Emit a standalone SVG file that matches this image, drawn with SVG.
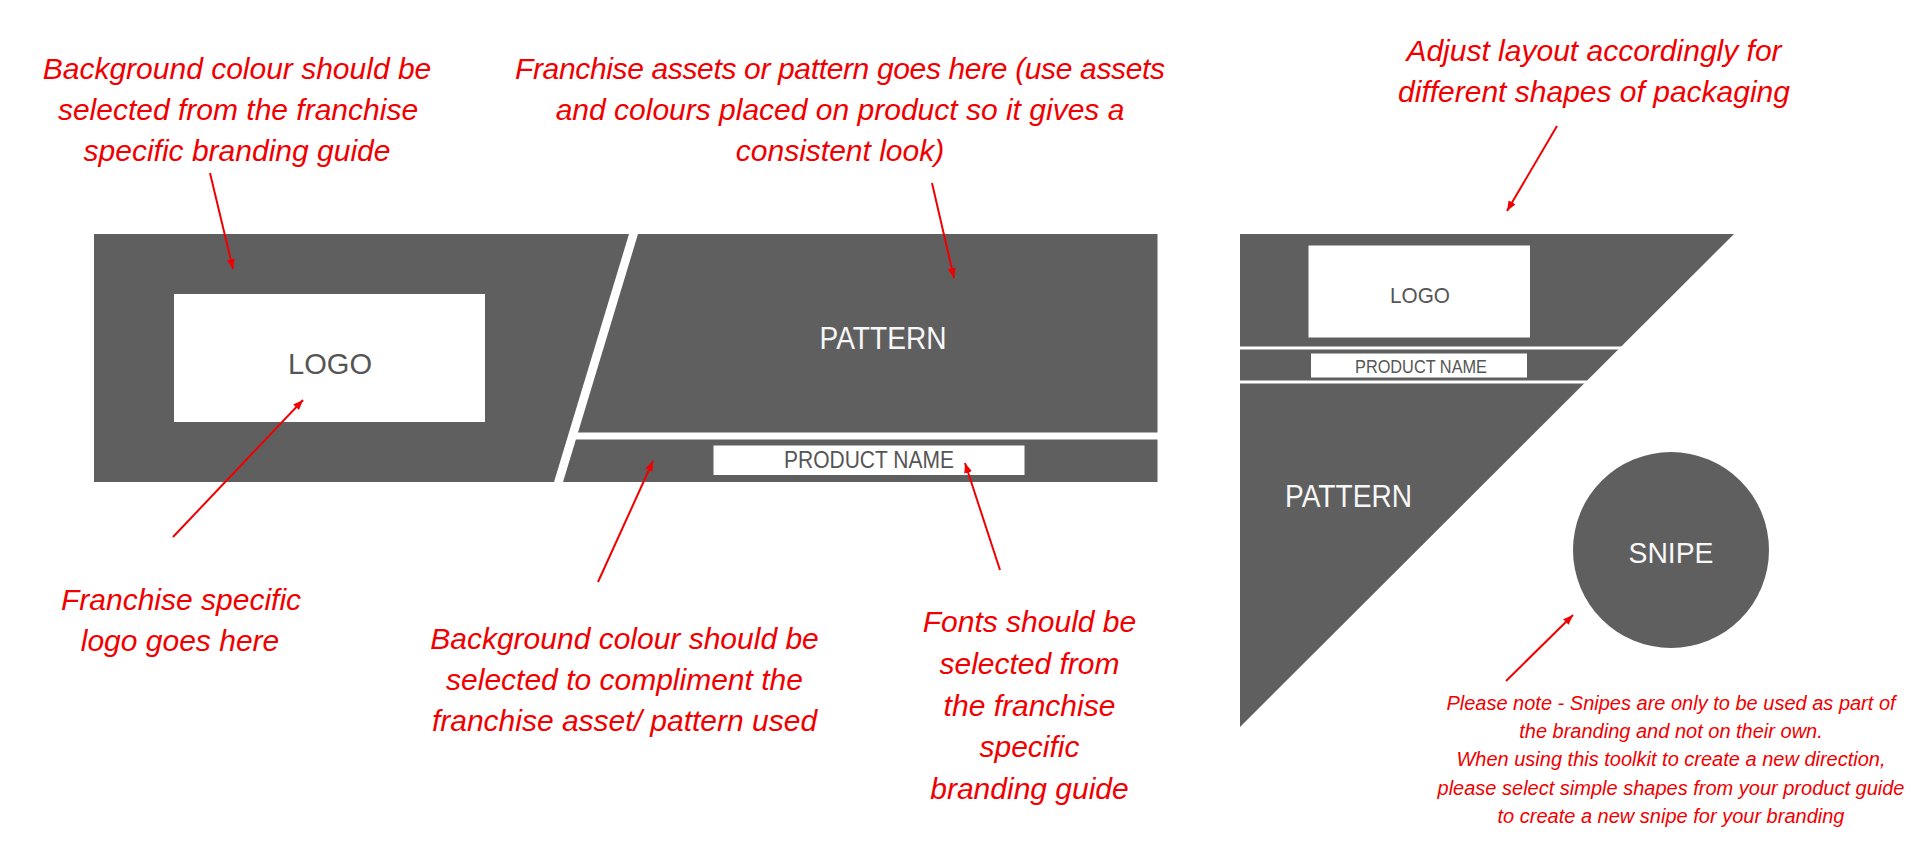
<svg xmlns="http://www.w3.org/2000/svg" width="1920" height="845" viewBox="0 0 1920 845">
<defs>
<style>
.shape{fill:#5f5f5f}
.box{fill:#ffffff}
.note{font-family:"Liberation Sans",Arial,sans-serif;font-style:italic;font-size:30px;fill:#f00000;text-anchor:middle}
.small{font-size:20px}
.lbl{font-family:"Liberation Sans",Arial,sans-serif;text-anchor:middle;fill:#555555}
.wl{fill:#f7f7f7}
.arrow{stroke:#f00000;stroke-width:2;fill:none;marker-end:url(#ah)}
</style>
<marker id="ah" viewBox="0 0 10 8" refX="10" refY="4" markerWidth="10" markerHeight="8" markerUnits="userSpaceOnUse" orient="auto">
<path d="M0,0 L10,4 L0,8 z" fill="#f00000"/>
</marker>
</defs>
<rect width="1920" height="845" fill="#ffffff"/>

<g id="logo-panel">
<polygon class="shape" points="94,234 629,234 554,482 94,482"/>
<rect class="box" x="174" y="294" width="311" height="128"/>
<text class="lbl" x="330" y="374" font-size="30" textLength="84" lengthAdjust="spacingAndGlyphs">LOGO</text>
</g>

<g id="pattern-panel">
<polygon class="shape" points="638,234 1157.5,234 1157.5,432.5 578,432.5"/>
<text class="lbl wl" x="883" y="349" font-size="31" textLength="127" lengthAdjust="spacingAndGlyphs">PATTERN</text>
</g>

<g id="product-band">
<polygon class="shape" points="575.9,439.5 1157.5,439.5 1157.5,482 563,482"/>
<rect class="box" x="713.5" y="445.5" width="311" height="29.5"/>
<text class="lbl" x="869" y="468" font-size="23" textLength="170" lengthAdjust="spacingAndGlyphs">PRODUCT NAME</text>
</g>

<g id="triangle-pack">
<polygon class="shape" points="1240,234 1734,234 1240,727"/>
<rect fill="#ffffff" x="1238" y="346.5" width="500" height="3"/>
<rect fill="#ffffff" x="1238" y="380.5" width="500" height="3"/>
<rect class="box" x="1308.5" y="245.5" width="221.5" height="92"/>
<text class="lbl" x="1420" y="302.5" font-size="22" textLength="60" lengthAdjust="spacingAndGlyphs">LOGO</text>
<rect class="box" x="1311" y="353.5" width="216" height="24"/>
<text class="lbl" x="1421" y="372.5" font-size="17.5" textLength="132" lengthAdjust="spacingAndGlyphs">PRODUCT NAME</text>
<text class="lbl wl" x="1348.5" y="507" font-size="31" textLength="127" lengthAdjust="spacingAndGlyphs">PATTERN</text>
</g>

<g id="snipe">
<circle class="shape" cx="1671" cy="550" r="98"/>
<text class="lbl wl" x="1671" y="563" font-size="30" textLength="85" lengthAdjust="spacingAndGlyphs">SNIPE</text>
</g>

<g id="note-bg-colour">
<text class="note"><tspan x="237" y="79">Background colour should be</tspan><tspan x="238" y="120">selected from the franchise</tspan><tspan x="237" y="160.5">specific branding guide</tspan></text>
</g>

<g id="note-pattern">
<text class="note"><tspan x="840" y="79" textLength="650">Franchise assets or pattern goes here (use assets</tspan><tspan x="840" y="120">and colours placed on product so it gives a</tspan><tspan x="840" y="160.5">consistent look)</tspan></text>
</g>

<g id="note-layout">
<text class="note"><tspan x="1594" y="61">Adjust layout accordingly for</tspan><tspan x="1594" y="101.5">different shapes of packaging</tspan></text>
</g>

<g id="note-logo">
<text class="note"><tspan x="181" y="610">Franchise specific</tspan><tspan x="180" y="650.5">logo goes here</tspan></text>
</g>

<g id="note-band-colour">
<text class="note"><tspan x="624.5" y="648.5">Background colour should be</tspan><tspan x="624.5" y="689.5">selected to compliment the</tspan><tspan x="624.5" y="731">franchise asset/ pattern used</tspan></text>
</g>

<g id="note-fonts">
<text class="note"><tspan x="1029.5" y="632">Fonts should be</tspan><tspan x="1029.5" y="674">selected from</tspan><tspan x="1029.5" y="715.5">the franchise</tspan><tspan x="1029.5" y="757">specific</tspan><tspan x="1029.5" y="798.5">branding guide</tspan></text>
</g>

<g id="note-snipe">
<text class="note small"><tspan x="1671" y="710">Please note - Snipes are only to be used as part of</tspan><tspan x="1671" y="738">the branding and not on their own.</tspan><tspan x="1671" y="766">When using this toolkit to create a new direction,</tspan><tspan x="1671" y="794.5">please select simple shapes from your product guide</tspan><tspan x="1671" y="822.5">to create a new snipe for your branding</tspan></text>
</g>

<g id="connectors">
<line class="arrow" x1="210" y1="173" x2="233" y2="269"/>
<line class="arrow" x1="932" y1="183" x2="954" y2="278"/>
<line class="arrow" x1="1557" y1="126" x2="1507" y2="211"/>
<line class="arrow" x1="173" y1="537" x2="303" y2="400"/>
<line class="arrow" x1="598" y1="582" x2="653" y2="461"/>
<line class="arrow" x1="1000" y1="570" x2="965" y2="463"/>
<line class="arrow" x1="1506" y1="681" x2="1573" y2="615"/>
</g>
</svg>
